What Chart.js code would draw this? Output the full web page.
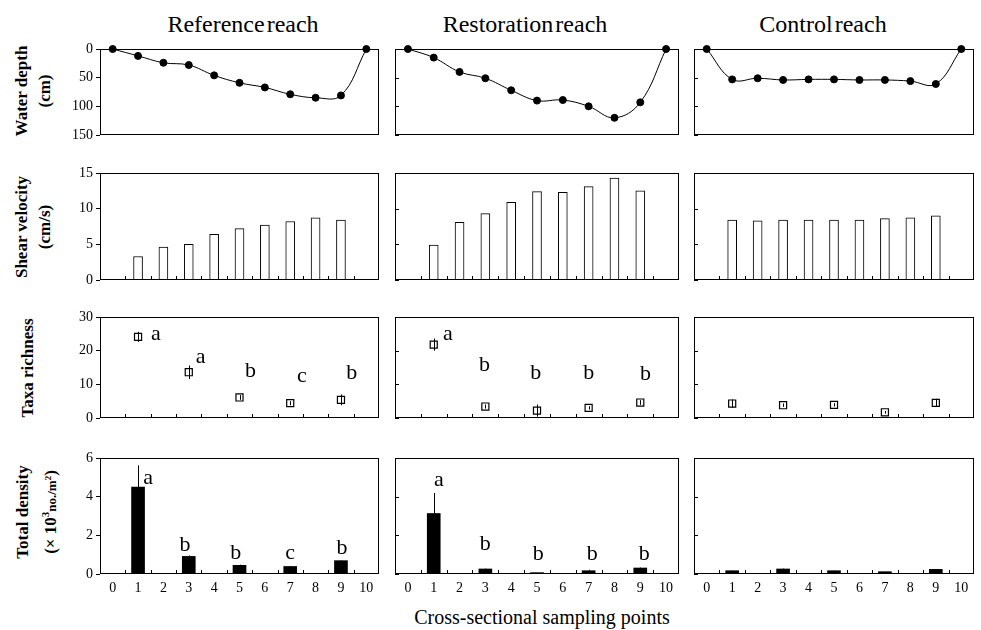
<!DOCTYPE html>
<html>
<head>
<meta charset="utf-8">
<script src="https://cdn.jsdelivr.net/npm/chart.js@4"></script>
<style>
  body { margin: 0; width: 981px; height: 630px; position: relative; overflow: hidden; background: #fff;
         font-family: "Liberation Serif", "Times New Roman", serif; color: #000; }
  canvas { position: absolute; }
  .t { position: absolute; transform: translate(-50%, -50%); white-space: nowrap; }
  .hd { font-size: 24px; word-spacing: -4px; }
  .yt { font-size: 17px; font-weight: bold; line-height: 23px; text-align: center;
        transform: translate(-50%, -50%) rotate(-90deg); }
  .xt { font-size: 20px; }
</style>
</head>
<body>
<div class="t hd" style="left:243px;top:24px">Reference reach</div>
<div class="t hd" style="left:525px;top:24px">Restoration reach</div>
<div class="t hd" style="left:823px;top:24px">Control reach</div>

<div class="t yt" style="left:33px;top:91px">Water depth<br>(cm)</div>
<div class="t yt" style="left:33px;top:227px">Shear velocity<br>(cm/s)</div>
<div class="t yt" style="left:27px;top:368px">Taxa richness</div>
<div class="t yt" style="left:37px;top:512px">Total density<br>(× 10<sup style="font-size:11px">3</sup><span style="font-size:13px">no./m<sup style="font-size:9px">2</sup></span>)</div>

<div class="t xt" style="left:542px;top:617px">Cross-sectional sampling points</div>

<script>
// x positions / tick labels
const X_LABELS = [0, 1, 2, 3, 4, 5, 6, 7, 8, 9, 10];
const SHEAR_X = [1, 2, 3, 4, 5, 6, 7, 8, 9];
const SITES = [1, 3, 5, 7, 9];

const DEPTH_TICKS = [0, 50, 100, 150];
const SHEAR_TICKS = [0, 5, 10, 15];
const RICH_TICKS = [0, 10, 20, 30];
const DENS_TICKS = [0, 2, 4, 6];

// water depth (cm)
const refDepth = [0, 12, 24, 28, 46, 59, 67, 79, 85, 81, 0];
const resDepth = [0, 15, 40, 51, 72, 90, 89, 100, 120, 93, 0];
const conDepth = [0, 53, 51, 54, 53, 53, 54, 54, 56, 61, 0];

// shear velocity (cm/s)
const refShear = [3.3, 4.6, 5.0, 6.4, 7.2, 7.7, 8.2, 8.7, 8.4];
const resShear = [4.9, 8.1, 9.3, 10.9, 12.4, 12.3, 13.1, 14.3, 12.5];
const conShear = [8.4, 8.3, 8.4, 8.4, 8.4, 8.4, 8.6, 8.7, 9.0];

// taxa richness, mean and error
const refRich = [24.1, 13.6, 6.1, 4.4, 5.4];
const refRichErr = [1.5, 2.0, 0.7, 0.6, 1.6];
const resRich = [21.8, 3.4, 2.2, 3.0, 4.6];
const resRichErr = [1.8, 0.6, 1.8, 0.5, 0.7];
const conRich = [4.3, 3.8, 3.9, 1.7, 4.5];
const conRichErr = [1.2, 0.5, 0.5, 0.4, 1.2];

// total density (x10^3 no./m2), mean and error
const refDens = [4.5, 0.91, 0.45, 0.39, 0.69];
const refDensErr = [1.12, 0.05, 0.03, 0.03, 0.03];
const resDens = [3.13, 0.26, 0.07, 0.17, 0.31];
const resDensErr = [1.06, 0.02, 0.01, 0.05, 0.02];
const conDens = [0.17, 0.26, 0.17, 0.12, 0.24];
const conDensErr = [0.02, 0.02, 0.02, 0.01, 0.02];

// significance letters and where they sit
const refRichLetters = ["a", "a", "b", "c", "b"];
const refRichLetterX = [1.7, 3.47, 5.43, 7.46, 9.43];
const refRichLetterY = [24.8, 18.1, 13.9, 12.4, 13.2];
const resRichLetters = ["a", "b", "b", "b", "b"];
const resRichLetterX = [1.55, 2.97, 4.95, 7.0, 9.2];
const resRichLetterY = [24.8, 15.8, 13.2, 13.2, 13.0];
const refDensLetters = ["a", "b", "b", "c", "b"];
const refDensLetterX = [1.4, 2.85, 4.85, 7.0, 9.04];
const refDensLetterY = [4.94, 1.51, 1.08, 1.08, 1.34];
const resDensLetters = ["a", "b", "b", "b", "b"];
const resDensLetterX = [1.2, 3.0, 5.05, 7.14, 9.15];
const resDensLetterY = [4.84, 1.56, 1.0, 1.0, 1.0];

const SERIF = '"Liberation Serif", "Times New Roman", serif';
Chart.defaults.font.family = SERIF;
Chart.defaults.color = "#000";

const COLS = [[100, 379], [395, 679], [694, 974]];
const ROWS = [[49, 135], [173, 280], [317, 418], [458, 574]];
const PAD = { l: 44, r: 8, t: 14, b: 30 };

const pts = (xs, ys) => xs.map((x, i) => ({ x, y: ys[i] }));

// box, inward ticks, error bars, letters
const frame = {
    id: "frame",
    afterDatasetsDraw(chart, args, o) {
        const { ctx, chartArea: a, scales: { x, y } } = chart;
        ctx.save();
        ctx.strokeStyle = "#000";
        ctx.lineWidth = 1;
        ctx.beginPath();
        if (o.vals) {
            o.vals.forEach((v, i) => {
                const px = Math.round(x.getPixelForValue(SITES[i])) + 0.5;
                ctx.moveTo(px, y.getPixelForValue(o.up ? v : v - o.err[i]));
                ctx.lineTo(px, y.getPixelForValue(v + o.err[i]));
            });
        }
        if (o.row > 0) {
            for (let k = 0; k < 10; k++) {
                const px = Math.round(x.getPixelForValue(k + 0.5)) + 0.5;
                ctx.moveTo(px, a.bottom);
                ctx.lineTo(px, a.bottom - 4);
            }
        }
        if (o.col > 0) {
            y.ticks.forEach(t => {
                const py = Math.round(y.getPixelForValue(t.value)) + 0.5;
                ctx.moveTo(a.left, py);
                ctx.lineTo(a.left + 4, py);
            });
        }
        ctx.stroke();
        ctx.strokeRect(a.left + 0.5, a.top + 0.5, a.right - a.left - 1, a.bottom - a.top - 1);
        if (o.letters) {
            ctx.fillStyle = "#000";
            ctx.font = "22px " + SERIF;
            ctx.textAlign = "center";
            ctx.textBaseline = "middle";
            o.letters.forEach((s, i) => {
                ctx.fillText(s, x.getPixelForValue(o.lx[i]), y.getPixelForValue(o.ly[i]));
            });
        }
        ctx.restore();
    },
};

function panel(col, row, yTicks, datasets, extra, reverse) {
    const [l, r] = COLS[col], [t, b] = ROWS[row];
    const c = document.createElement("canvas");
    c.width = r - l + PAD.l + PAD.r;
    c.height = b - t + PAD.t + PAD.b;
    c.style.left = (l - PAD.l) + "px";
    c.style.top = (t - PAD.t) + "px";
    document.body.appendChild(c);
    return new Chart(c, {
        type: "bar",
        data: { datasets },
        plugins: [frame],
        options: {
            responsive: false, animation: false, devicePixelRatio: 1,
            layout: { padding: { top: PAD.t, right: PAD.r, left: 0, bottom: 0 } },
            plugins: {
                legend: { display: false }, tooltip: { enabled: false },
                frame: Object.assign({ col, row }, extra),
            },
            scales: {
                x: {
                    type: "linear", min: -0.5, max: 10.5, offset: false,
                    afterBuildTicks: s => { s.ticks = X_LABELS.map(v => ({ value: v })); },
                    afterFit: s => { s.height = PAD.b; },
                    grid: { display: false, drawTicks: false, offset: false },
                    border: { display: false },
                    ticks: { display: row === 3, font: { size: 14 }, padding: 6, maxRotation: 0, autoSkip: false },
                },
                y: {
                    type: "linear", min: yTicks[0], max: yTicks[yTicks.length - 1], reverse: !!reverse,
                    afterBuildTicks: s => { s.ticks = yTicks.map(v => ({ value: v })); },
                    afterFit: s => { s.width = PAD.l; },
                    grid: { display: col === 0, drawOnChartArea: false, drawTicks: true, tickLength: 4, color: "#000" },
                    border: { display: false },
                    ticks: { display: col === 0, font: { size: 14 }, padding: 3 },
                },
            },
        },
    });
}

const depthSet = d => [{
    type: "line", data: pts(X_LABELS, d), clip: false,
    borderColor: "#000", borderWidth: 1, tension: 0.4,
    pointRadius: 3.5, pointBackgroundColor: "#000", pointBorderColor: "#000",
}];
const shearSet = d => [{
    data: pts(SHEAR_X, d), barThickness: 9,
    backgroundColor: "#fff", borderColor: "#000", borderWidth: 1,
}];
const richSet = d => [{
    type: "scatter", data: pts(SITES, d), clip: false,
    pointStyle: "rect", pointRadius: 5,
    backgroundColor: "#fff", borderColor: "#000", borderWidth: 1.2,
}];
const densSet = d => [{
    data: pts(SITES, d), barThickness: 13, backgroundColor: "#000", borderWidth: 0,
}];

panel(0, 0, DEPTH_TICKS, depthSet(refDepth), {}, true);
panel(1, 0, DEPTH_TICKS, depthSet(resDepth), {}, true);
panel(2, 0, DEPTH_TICKS, depthSet(conDepth), {}, true);

panel(0, 1, SHEAR_TICKS, shearSet(refShear), {});
panel(1, 1, SHEAR_TICKS, shearSet(resShear), {});
panel(2, 1, SHEAR_TICKS, shearSet(conShear), {});

panel(0, 2, RICH_TICKS, richSet(refRich),
    { vals: refRich, err: refRichErr, letters: refRichLetters, lx: refRichLetterX, ly: refRichLetterY });
panel(1, 2, RICH_TICKS, richSet(resRich),
    { vals: resRich, err: resRichErr, letters: resRichLetters, lx: resRichLetterX, ly: resRichLetterY });
panel(2, 2, RICH_TICKS, richSet(conRich), { vals: conRich, err: conRichErr });

panel(0, 3, DENS_TICKS, densSet(refDens),
    { vals: refDens, err: refDensErr, up: true, letters: refDensLetters, lx: refDensLetterX, ly: refDensLetterY });
panel(1, 3, DENS_TICKS, densSet(resDens),
    { vals: resDens, err: resDensErr, up: true, letters: resDensLetters, lx: resDensLetterX, ly: resDensLetterY });
panel(2, 3, DENS_TICKS, densSet(conDens), { vals: conDens, err: conDensErr, up: true });
</script>
</body>
</html>
